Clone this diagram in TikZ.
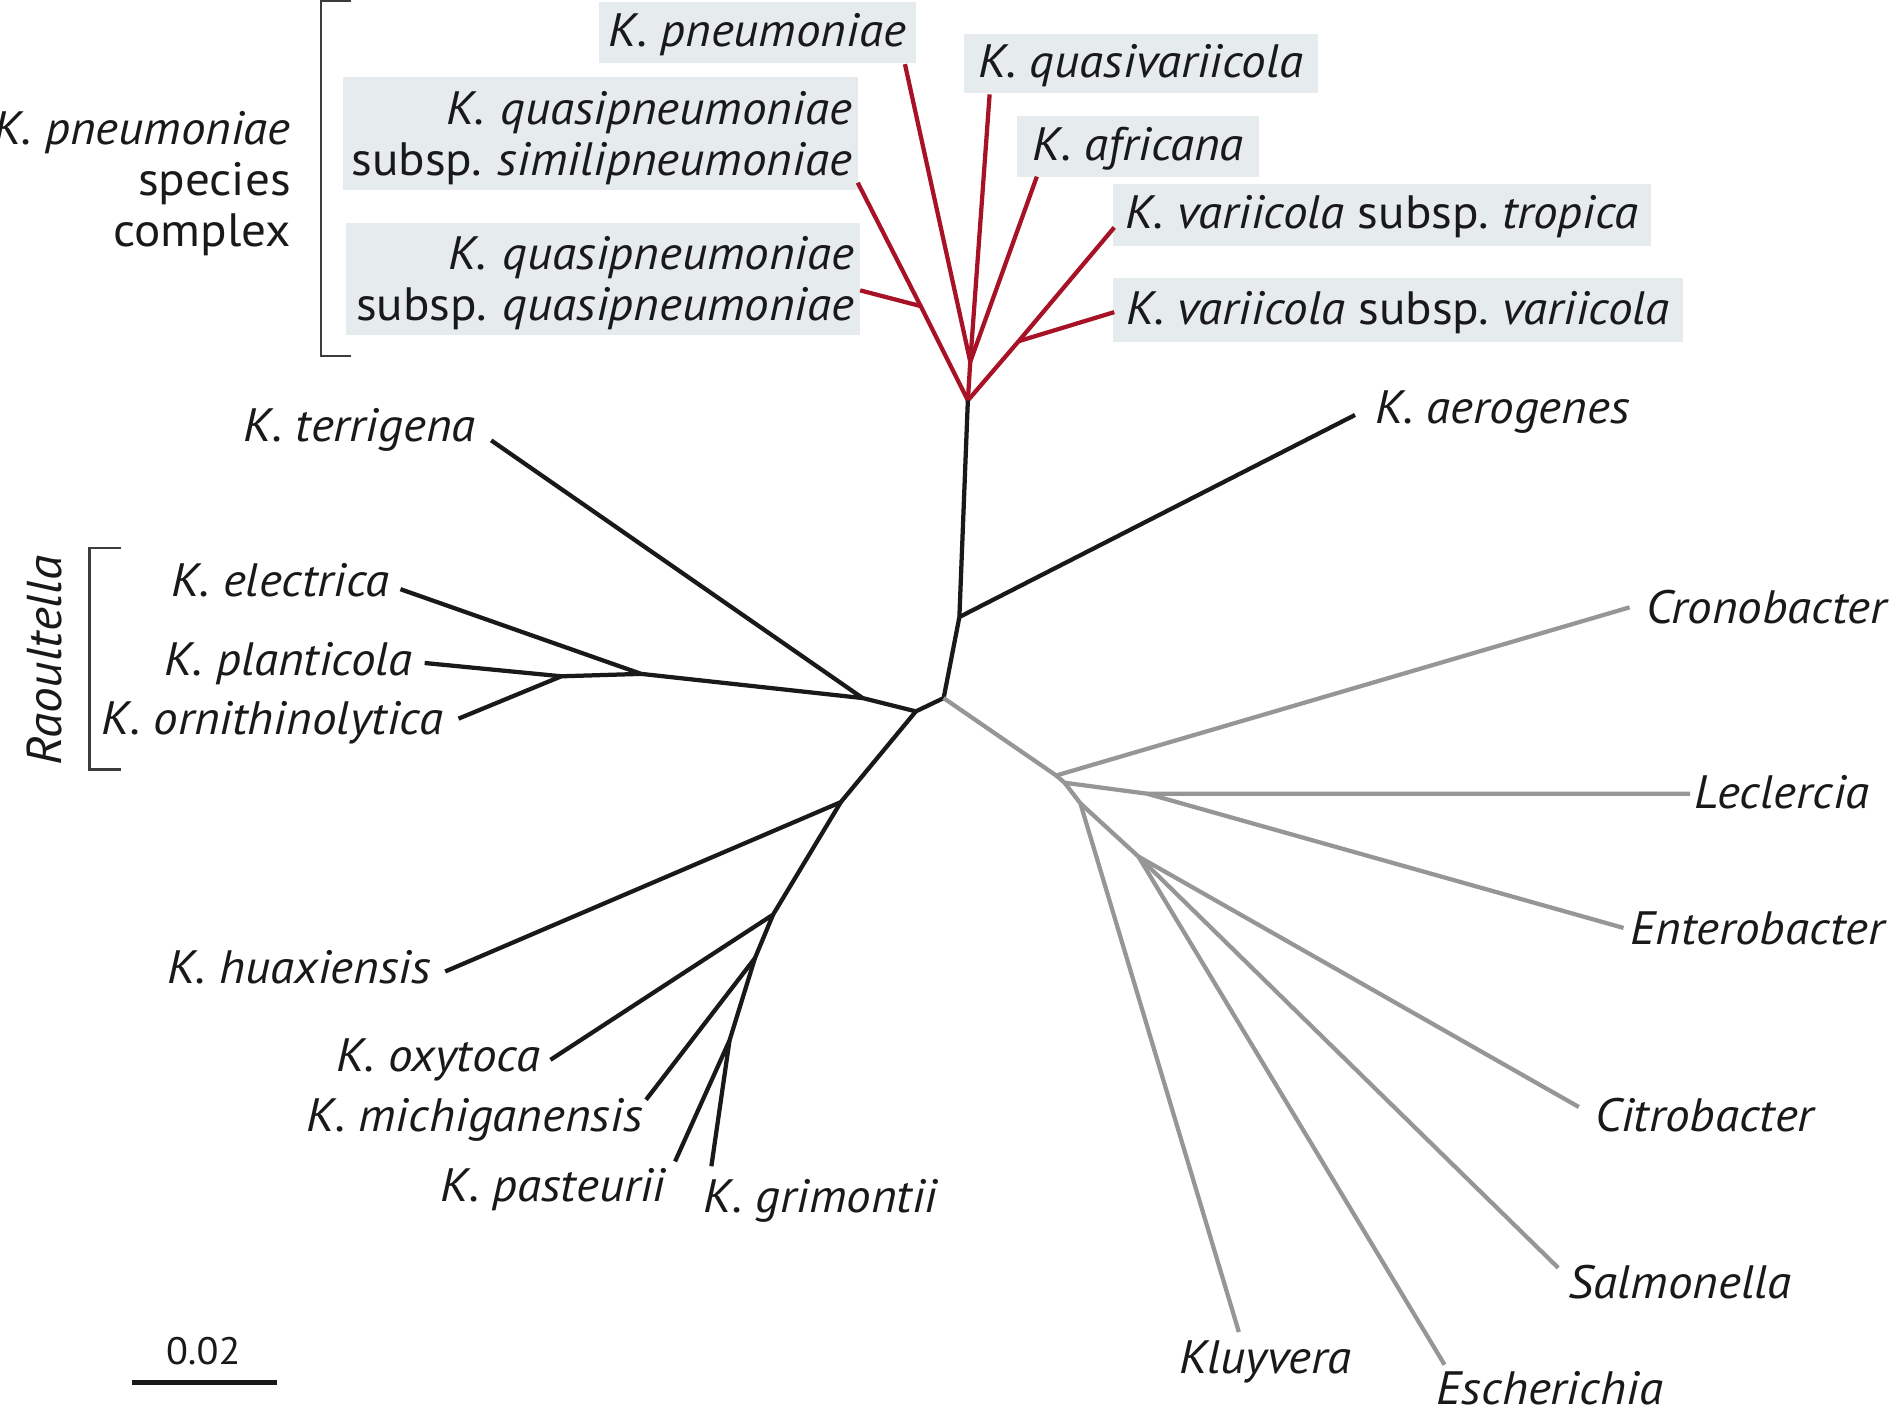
\documentclass[tikz,border=0pt]{standalone}
\usepackage{fontspec}
\setmainfont{PT Sans}[FakeStretch=1.05]
\definecolor{kred}{RGB}{168,18,38}
\definecolor{kgray}{RGB}{150,150,150}
\definecolor{kbox}{RGB}{230,236,238}
\definecolor{kbrk}{RGB}{60,60,60}
\begin{document}
\frenchspacing
\begin{tikzpicture}[x=0.01cm,y=-0.01cm,
  br/.style={line width=1pt, line join=round},
  blk/.style={br, black!90},
  redb/.style={br, kred},
  gryb/.style={br, kgray},
  lab/.style={font=\fontsize{11}{12}\selectfont\itshape, inner sep=0pt, text=black!90},
  box/.style={lab, fill=kbox, text height=6.6pt, text depth=0pt},
  box2/.style={lab, fill=kbox, align=right, inner xsep=0.05cm, inner ysep=0pt, text height=6.6pt, text depth=10.9pt},
  grp/.style={font=\fontsize{11}{12}\selectfont, inner sep=0pt, text=black!90},
  brk/.style={kbrk, line width=0.5pt}
]
\useasboundingbox (0,0) rectangle (1568,1169);

% ---------- internal nodes and leaf tips ----------
\coordinate (r0) at (800,331);
\coordinate (r1) at (802,299);
\coordinate (lpn) at (748,53);
\coordinate (lqv) at (818,78);
\coordinate (laf) at (857,146);
\coordinate (ltr) at (921,188);
\coordinate (nvv) at (842,282);
\coordinate (lvv) at (921,258);
\coordinate (lsi) at (709,151);
\coordinate (nqq) at (761,253);
\coordinate (lqq) at (711,240);

\coordinate (na) at (793,510);
\coordinate (lae) at (1120,343);
\coordinate (nb) at (780,577);
\coordinate (nc) at (757,588);
\coordinate (nd) at (713,577);
\coordinate (lte) at (406,364);
\coordinate (nr) at (530,557);
\coordinate (lel) at (331,487);
\coordinate (np) at (464,559);
\coordinate (lpl) at (351,548);
\coordinate (lor) at (379,594);
\coordinate (ne) at (695,663);
\coordinate (lhu) at (368,803);
\coordinate (nf) at (639,756);
\coordinate (lox) at (455,876);
\coordinate (ng) at (624,792);
\coordinate (lmi) at (534,909);
\coordinate (nh) at (603,860);
\coordinate (lpa) at (558,960);
\coordinate (lgr) at (588,964);

\coordinate (g1) at (873,641);
\coordinate (g1b) at (880,647);
\coordinate (lcr) at (1347,502);
\coordinate (nl) at (948,656);
\coordinate (lle) at (1397,656);
\coordinate (len) at (1342,767);
\coordinate (nm) at (893,664);
\coordinate (lkl) at (1024,1101);
\coordinate (nn) at (941,708);
\coordinate (lci) at (1305,915);
\coordinate (lsa) at (1288,1048);
\coordinate (les) at (1194,1128);

\coordinate (sb1) at (109,1143);
\coordinate (sb2) at (229,1143);

% ---------- label boxes (red clade) ----------
\node[box, minimum width=2.62cm, minimum height=0.50cm] (bpn) at (626,27) {K. pneumoniae};
\node[box, minimum width=2.92cm, minimum height=0.49cm] (bqv) at (943,52.5) {K. quasivariicola};
\node[box, minimum width=2.00cm, minimum height=0.50cm] (baf) at (941,121) {K. africana};
\node[box, minimum width=4.44cm, minimum height=0.51cm] (btr) at (1142.5,177.5) {K. variicola \upshape subsp. \itshape tropica};
\node[box, minimum width=4.71cm, minimum height=0.53cm] (bvv) at (1155.5,256.5) {K. variicola \upshape subsp. \itshape variicola};
\node[box2, text width=4.15cm, minimum height=0.93cm] (bsi) at (496.5,110.5) {\mbox{K. quasipneumoniae}\\\mbox{\upshape subsp. \itshape similipneumoniae}};
\node[box2, text width=4.15cm, minimum height=0.93cm] (bqq) at (498.5,230.5) {\mbox{K. quasipneumoniae}\\\mbox{\upshape subsp. \itshape quasipneumoniae}};

% ---------- red branches ----------
\draw[redb] (r0) -- (r1);
\draw[redb] (r1) -- (lpn);
\draw[redb] (r1) -- (lqv);
\draw[redb] (r1) -- (laf);
\draw[redb] (r0) -- (nvv) -- (ltr);
\draw[redb] (nvv) -- (lvv);
\draw[redb] (r0) -- (nqq) -- (lsi);
\draw[redb] (nqq) -- (lqq);

% ---------- black branches ----------
\draw[blk] (r0) -- (na) -- (nb) -- (nc);
\draw[blk] (na) -- (lae);
\draw[blk] (nc) -- (nd) -- (lte);
\draw[blk] (nd) -- (nr) -- (lel);
\draw[blk] (nr) -- (np) -- (lpl);
\draw[blk] (np) -- (lor);
\draw[blk] (nc) -- (ne) -- (lhu);
\draw[blk] (ne) -- (nf) -- (lox);
\draw[blk] (nf) -- (ng) -- (lmi);
\draw[blk] (ng) -- (nh) -- (lpa);
\draw[blk] (nh) -- (lgr);

% ---------- gray branches ----------
\draw[gryb] (nb) -- (g1) -- (lcr);
\draw[gryb] (g1) -- (g1b) -- (nl) -- (lle);
\draw[gryb] (nl) -- (len);
\draw[gryb] (g1b) -- (nm) -- (lkl);
\draw[gryb] (nm) -- (nn) -- (lci);
\draw[gryb] (nn) -- (lsa);
\draw[gryb] (nn) -- (les);

% ---------- leaf labels ----------
\node[lab, anchor=base west] (tae) at (1136,350) {K. aerogenes};
\node[lab, anchor=base east] (tte) at (394,365) {K. terrigena};
\node[lab, anchor=base east] (tel) at (323,493) {K. electrica};
\node[lab, anchor=base east] (tpl) at (342,558) {K. planticola};
\node[lab, anchor=base east] (tor) at (367,607) {K. ornithinolytica};
\node[lab, anchor=base east] (thu) at (357,813) {K. huaxiensis};
\node[lab, anchor=base east] (tox) at (447,886) {K. oxytoca};
\node[lab, anchor=base east] (tmi) at (532,935) {K. michiganensis};
\node[lab, anchor=base east] (tpa) at (551,993) {K. pasteurii};
\node[lab, anchor=base west] (tgr) at (581,1002) {K. grimontii};

\node[lab, anchor=base west] (tcr) at (1360,515) {Cronobacter};
\node[lab, anchor=base west] (tle) at (1400,668) {Leclercia};
\node[lab, anchor=base west] (ten) at (1347,781) {Enterobacter};
\node[lab, anchor=base west] (tci) at (1318,935) {Citrobacter};
\node[lab, anchor=base west] (tsa) at (1296,1073) {Salmonella};
\node[lab, anchor=base west] (tkl) at (974,1135) {Kluyvera};
\node[lab, anchor=base west, text depth=0pt] (tes) at (1187,1161) {Escherichia};

% ---------- group labels and brackets ----------
\node[grp, align=right, anchor=east] (kpsc) at (241,152) {\textit{K. pneumoniae}\\species\\complex};
\draw[brk] (290,1) -- (265,1) -- (265,294) -- (290,294);

\node[grp, font=\fontsize{11.5}{13}\selectfont\itshape, rotate=90] (rao) at (37,546) {Raoultella};
\draw[brk] (100,453) -- (74,453) -- (74,636) -- (100,636);

% ---------- scale bar ----------
\draw[line width=1.2pt, black!90] (sb1) -- (sb2);
\node[grp, font=\fontsize{9}{10}\selectfont, anchor=base] (sbl) at (168,1128) {0.02};
\end{tikzpicture}
\end{document}
